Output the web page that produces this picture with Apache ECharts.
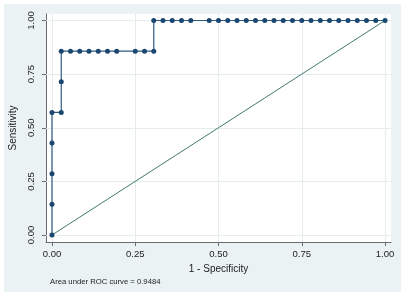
<!DOCTYPE html>
<html>
<head>
<meta charset="utf-8">
<script src="https://cdn.jsdelivr.net/npm/echarts@6/dist/echarts.min.js"></script>
<style>html,body{margin:0;padding:0;background:#fff}#c{width:405px;height:297px}</style>
</head>
<body>
<div id="c"></div>
<script>
// 1 - Specificity (false positive rate) of each ROC point
const fpr = [0, 0, 0, 0, 0, 0.0278, 0.0278, 0.0278, 0.0556, 0.0833, 0.1111, 0.1389, 0.1667, 0.1944, 0.25, 0.2778, 0.3056,
  0.3056, 0.3333, 0.3611, 0.3889, 0.4167, 0.4722, 0.5, 0.5278, 0.5556, 0.5833, 0.6111, 0.6389, 0.6667, 0.6944, 0.7222,
  0.75, 0.7778, 0.8056, 0.8333, 0.8611, 0.8889, 0.9167, 0.9444, 0.9722, 1];
// Sensitivity of each ROC point
const tpr = [0, 0.1429, 0.2857, 0.4286, 0.5714, 0.5714, 0.7143, 0.8571, 0.8571, 0.8571, 0.8571, 0.8571, 0.8571, 0.8571, 0.8571, 0.8571, 0.8571,
  1, 1, 1, 1, 1, 1, 1, 1, 1, 1, 1, 1, 1, 1, 1,
  1, 1, 1, 1, 1, 1, 1, 1, 1, 1];
// Reference (chance) line
const refX = [0, 1];
const refY = [0, 1];
const xTicks = [0, 0.25, 0.5, 0.75, 1];
const yTicks = [0, 0.25, 0.5, 0.75, 1];
const aucValue = 0.9484;
const xTitle = '1 - Specificity';
const yTitle = 'Sensitivity';

const FONT = 'Liberation Sans, Arial, sans-serif';
const chart = echarts.init(document.getElementById('c'), null, {renderer: 'canvas'});
const rocData = fpr.map((x, i) => [x, tpr[i]]);
const refData = refX.map((x, i) => [x, refY[i]]);
const gridLines = xTicks.map(v => ({xAxis: v})).concat(yTicks.map(v => ({yAxis: v})));

chart.setOption({
  animation: false,
  backgroundColor: '#ffffff',
  graphic: [{
    type: 'rect', left: 4, top: 4, z: -100,
    shape: {width: 397, height: 288},
    style: {fill: '#eaf2f3'}
  }],
  title: {
    text: 'Area under ROC curve = ' + aucValue.toFixed(4),
    left: 45, top: 273,
    textStyle: {fontFamily: FONT, fontSize: 7.7, fontWeight: 'normal', color: '#222'}
  },
  grid: {
    left: 44, right: 14, top: 14, bottom: 55,
    show: true, backgroundColor: '#ffffff', borderWidth: 0
  },
  xAxis: {
    type: 'value', min: -0.018, max: 1.018,
    name: xTitle, nameLocation: 'middle', nameGap: 16,
    nameTextStyle: {fontFamily: FONT, fontSize: 10, color: '#222'},
    axisLine: {show: true, onZero: false, lineStyle: {color: '#6a6a6a', width: 1}},
    axisTick: {show: true, length: 4, customValues: xTicks, lineStyle: {color: '#6a6a6a'}},
    axisLabel: {customValues: xTicks, margin: 7, fontFamily: FONT, fontSize: 9.5, color: '#222',
      formatter: v => v.toFixed(2)},
    splitLine: {show: false}
  },
  yAxis: {
    type: 'value', min: -0.0326, max: 1.0303,
    name: yTitle, nameLocation: 'middle', nameGap: 28,
    nameTextStyle: {fontFamily: FONT, fontSize: 10, color: '#222'},
    axisLine: {show: true, onZero: false, lineStyle: {color: '#6a6a6a', width: 1}},
    axisTick: {show: true, length: 4, customValues: yTicks, lineStyle: {color: '#6a6a6a'}},
    axisLabel: {customValues: yTicks, rotate: 90, margin: 10, fontFamily: FONT, fontSize: 9.5, color: '#222',
      formatter: v => v.toFixed(2)},
    splitLine: {show: false}
  },
  series: [
    {
      type: 'line', data: [], z: 1, silent: true,
      markLine: {
        z: 1, silent: true, symbol: 'none', label: {show: false},
        lineStyle: {color: '#e4ecee', width: 1, type: 'solid'},
        data: gridLines
      }
    },
    {
      type: 'line', data: refData, z: 2, showSymbol: false, silent: true,
      lineStyle: {color: '#3f7a6c', width: 1}
    },
    {
      type: 'line', data: rocData, z: 3, symbol: 'circle', symbolSize: 5, showAllSymbol: true,
      itemStyle: {color: '#1a476f'},
      lineStyle: {color: '#2f5a80', width: 1.2}
    }
  ]
});
</script>
</body>
</html>
